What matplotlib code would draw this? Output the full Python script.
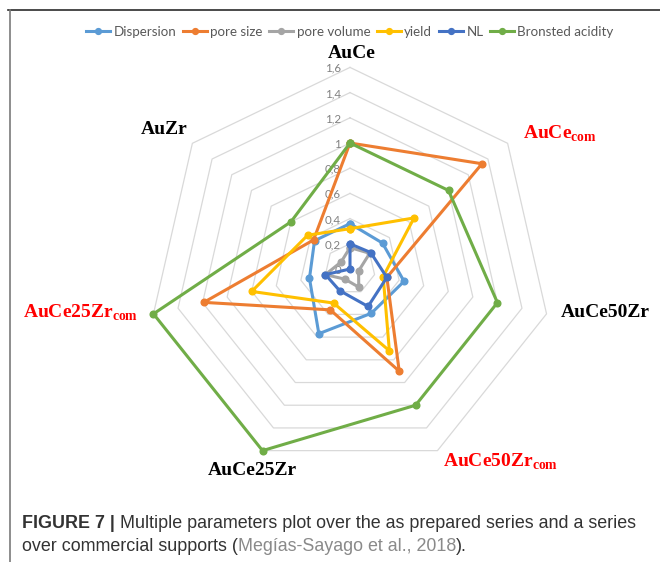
import numpy as np
import matplotlib
matplotlib.use("Agg")
import matplotlib.pyplot as plt
from matplotlib.lines import Line2D
from matplotlib.transforms import offset_copy

# ---- data -------------------------------------------------------------
categories = ["AuCe", "AuCe_com", "AuCe50Zr", "AuCe50Zr_com",
              "AuCe25Zr", "AuCe25Zr_com", "AuZr"]
dispersion = [0.36, 0.33, 0.44, 0.39, 0.57, 0.33, 0.36]
pore_size = [1.00, 1.34, 0.30, 0.90, 0.36, 1.19, 0.37]
pore_volume = [0.17, 0.20, 0.07, 0.16, 0.09, 0.20, 0.09]
yield_vals = [0.32, 0.65, 0.27, 0.72, 0.30, 0.80, 0.43]
nl = [0.20, 0.21, 0.30, 0.33, 0.19, 0.20, 0.00]
bronsted = [1.00, 1.00, 1.20, 1.20, 1.60, 1.60, 0.60]

series_names = ["Dispersion", "pore size", "pore volume", "yield", "NL",
                "Bronsted acidity"]
series_values = [dispersion, pore_size, pore_volume, yield_vals, nl, bronsted]
series_colors = ["#5B9BD5", "#ED7D31", "#A5A5A5", "#FFC000", "#4472C4",
                 "#70AD47"]

r_ticks = [0.0, 0.2, 0.4, 0.6, 0.8, 1.0, 1.2, 1.4, 1.6]
r_tick_labels = ["0", "0,2", "0,4", "0,6", "0,8", "1", "1,2", "1,4", "1,6"]

# category label text (mathtext subscript for the commercial supports)
cat_labels = {
    "AuCe": ("AuCe", "black"),
    "AuCe_com": (r"AuCe$_{\mathbf{com}}$", "#FF0000"),
    "AuCe50Zr": ("AuCe50Zr", "black"),
    "AuCe50Zr_com": (r"AuCe50Zr$_{\mathbf{com}}$", "#FF0000"),
    "AuCe25Zr": ("AuCe25Zr", "black"),
    "AuCe25Zr_com": (r"AuCe25Zr$_{\mathbf{com}}$", "#FF0000"),
    "AuZr": ("AuZr", "black"),
}
# label anchor (pixels from top-left), horizontal alignment
cat_label_pos = {
    "AuCe": (352, 58, "center"),
    "AuCe_com": (523, 139, "left"),
    "AuCe50Zr": (561, 317, "left"),
    "AuCe50Zr_com": (443, 467, "left"),
    "AuCe25Zr": (252, 475, "center"),
    "AuCe25Zr_com": (23, 318, "left"),
    "AuZr": (164, 134, "center"),
}

# ---- figure -----------------------------------------------------------
W, H = 660, 562
DPI = 100
plt.rcParams["mathtext.fontset"] = "custom"
plt.rcParams["mathtext.bf"] = "Liberation Serif:bold"
plt.rcParams["mathtext.rm"] = "Liberation Serif:bold"

fig = plt.figure(figsize=(W / DPI, H / DPI), dpi=DPI)
fig.patch.set_facecolor("white")


def fx(px):
    return px / W


def fy(py):
    return 1 - py / H


# radar area: centre (350, 269) px, outer radius 201.6 px
cx, cy, R = 350, 269, 201.6
ax = fig.add_axes([fx(cx - R), fy(cy + R), 2 * R / W, 2 * R / H],
                  projection="polar")
ax.set_theta_zero_location("N")
ax.set_theta_direction(-1)
ax.set_ylim(0, 1.6)
ax.grid(False)
ax.set_xticks([])
ax.set_yticks([])
ax.spines["polar"].set_visible(False)
ax.patch.set_alpha(0)

n = len(categories)
theta = np.arange(n) * 2 * np.pi / n
theta_closed = np.append(theta, theta[0])

# heptagon grid
for r in r_ticks[1:]:
    ax.plot(theta_closed, [r] * (n + 1), color="#D9D9D9", lw=0.9, zorder=1,
            clip_on=False)

# radial tick labels, left of the vertical axis
lab_tr = offset_copy(ax.transData, fig=fig, x=-9, y=-1, units="dots")
for r, lab in zip(r_ticks, r_tick_labels):
    ax.text(0, r, lab, transform=lab_tr, ha="right", va="center",
            fontsize=8.3, color="#808080", family=["Lato", "DejaVu Sans"])

# data series
for name, vals, col in zip(series_names, series_values, series_colors):
    v = list(vals) + [vals[0]]
    ax.plot(theta_closed, v, color=col, lw=2.2, marker="o", markersize=4.8,
            label=name, zorder=3, clip_on=False)

# category labels
for cat in categories:
    txt, col = cat_labels[cat]
    x, y, ha = cat_label_pos[cat]
    fig.text(fx(x), fy(y), txt, ha=ha, va="baseline", color=col,
             fontsize=14, fontweight="bold", family="Liberation Serif")

# legend
handles = [Line2D([], [], color=c, lw=2.2, marker="o", markersize=4.2)
           for c in series_colors]
leg = fig.legend(handles, series_names, loc="center", ncol=6,
                 bbox_to_anchor=(fx(350), fy(32)), frameon=False,
                 handlelength=1.8, handletextpad=0.25, columnspacing=0.5,
                 prop={"family": "Lato", "size": 9.6})
for t in leg.get_texts():
    t.set_color("#595959")

# border lines
fig.add_artist(Line2D([fx(8), fx(660)], [fy(10), fy(10)], color="#2b2b2b",
                      lw=1.2, transform=fig.transFigure))
fig.add_artist(Line2D([fx(10), fx(10)], [fy(10), fy(562)], color="#7a7a7a",
                      lw=1.2, transform=fig.transFigure))

# caption, drawn as consecutive text runs
renderer = fig.canvas.get_renderer()
cap_font = ["Liberation Sans", "DejaVu Sans"]


def draw_runs(x_px, y_px, runs, size=12.9):
    x = x_px
    for text, weight, color in runs:
        t = fig.text(fx(x), fy(y_px), text, ha="left", va="baseline",
                     fontsize=size, fontweight=weight, color=color,
                     family=cap_font)
        x += t.get_window_extent(renderer).width


draw_runs(22, 528, [("FIGURE 7 |", "bold", "#333333"),
                    (" Multiple parameters plot over the as prepared series "
                     "and a series", "normal", "#333333")])
draw_runs(22, 551, [("over commercial supports (", "normal", "#333333"),
                    ("Megías-Sayago et al., 2018", "normal", "#8a8a8a"),
                    (").", "normal", "#333333")])

fig.savefig("out.png", dpi=DPI, facecolor="white")
